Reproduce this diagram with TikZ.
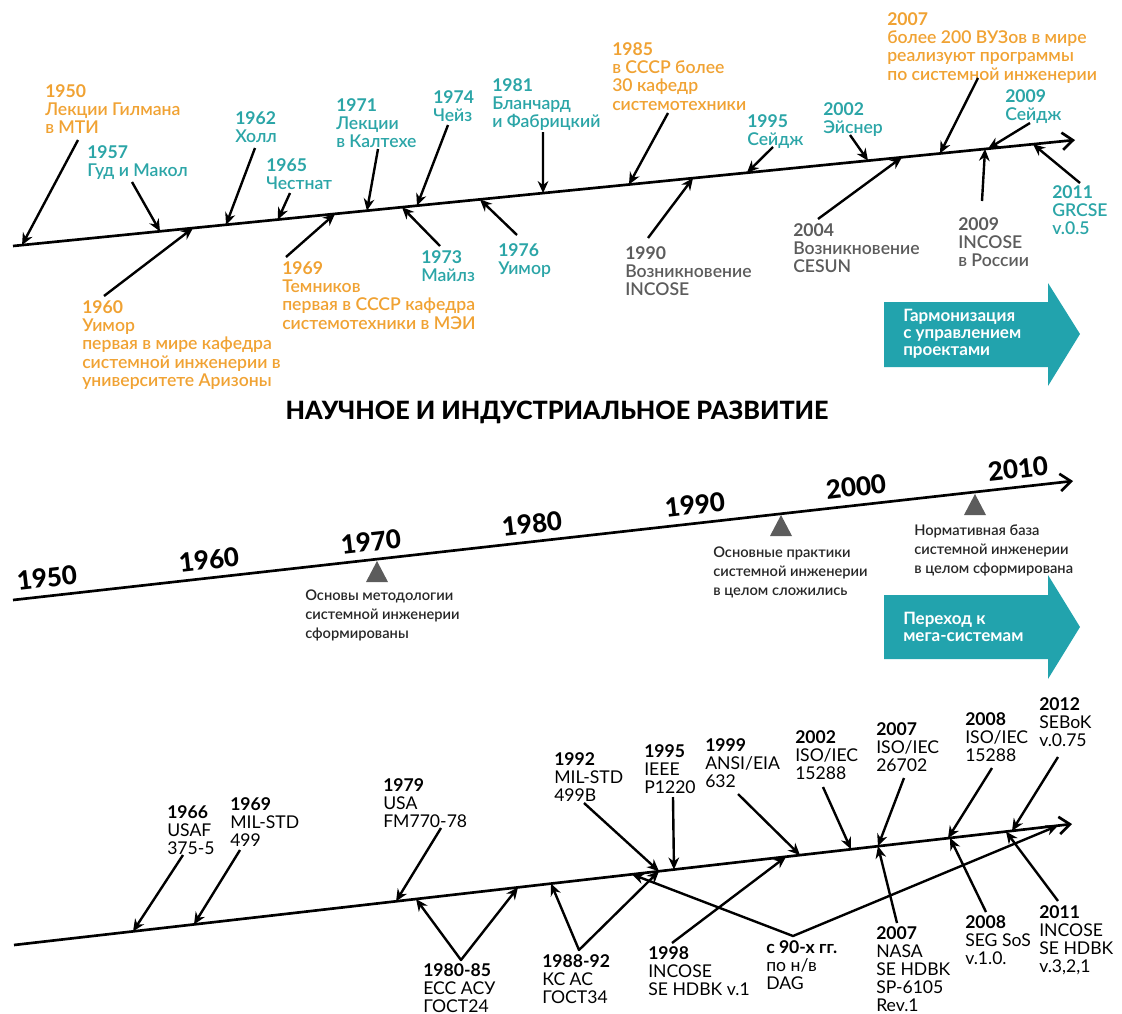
\documentclass[tikz,border=0pt]{standalone}
\usepackage{fontspec}
\setmainfont{Lato}
\newfontfamily\semi{Lato Semibold}
\newfontfamily\heavy{Lato Heavy}
\usetikzlibrary{arrows.meta,calc}
\definecolor{og}{HTML}{F0A233}
\definecolor{tq}{HTML}{2BA5A7}
\definecolor{gy}{HTML}{5C5C5C}
\definecolor{nt}{HTML}{262626}
\definecolor{bx}{HTML}{22A3AD}
\tikzstyle{lbl} = [anchor=north west, inner sep=0pt, align=left, font=\fontsize{13.2}{13.8}\selectfont\semi]
\tikzstyle{slbl} = [anchor=north west, inner sep=0pt, align=left, font=\fontsize{13.2}{13.6}\selectfont]
\tikzstyle{ptr} = [line width=1.8pt, -{Stealth[length=9pt,width=8pt]}]
\tikzstyle{pptr} = [line width=1.8pt, line join=round, {Stealth[length=9pt,width=8pt]}-{Stealth[length=9pt,width=8pt]}]
\tikzstyle{tline} = [line width=2pt, -{Straight Barb[length=8pt,width=13pt]}]
\tikzstyle{decade} = [anchor=base, inner sep=0pt, rotate=6.4, font=\fontsize{19.5}{19.5}\selectfont\heavy]
\tikzstyle{memo} = [anchor=north west, inner sep=0pt, align=left, text=nt, font=\fontsize{11}{14}\selectfont\semi]
\tikzstyle{banner} = [anchor=west, inner sep=0pt, align=left, text=white, font=\fontsize{12.75}{12.9}\selectfont\bfseries]
\tikzstyle{heading} = [anchor=base, inner sep=0pt, font=\fontsize{18.9}{18.9}\selectfont\heavy]
\newcommand{\yr}[1]{{\normalfont\bfseries #1}}

\begin{document}
\begin{tikzpicture}[x=0.75pt,y=-0.75pt]
\useasboundingbox (0,0) rectangle (1122,1014);

% top: people and events
\coordinate (ta) at (13,246);
\coordinate (tb) at (1075,140);
\draw[tline] (ta) -- (tb);

\node[lbl,og] (u1950) at (45,84) {\yr{1950}\\Лекции Гилмана\\в МТИ};
\node[lbl,tq] (u1957) at (87,145) {\yr{1957}\\Гуд и Макол};
\node[lbl,tq] (u1962) at (235,111) {\yr{1962}\\Холл};
\node[lbl,tq] (u1965) at (266,158) {\yr{1965}\\Честнат};
\node[lbl,tq] (u1971) at (336,98) {\yr{1971}\\Лекции\\в Калтехе};
\node[lbl,tq] (u1974) at (433,90) {\yr{1974}\\Чейз};
\node[lbl,tq] (u1981) at (492,78) {\yr{1981}\\Бланчард\\и Фабрицкий};
\node[lbl,og] (u1985) at (612,42) {\yr{1985}\\в СССР более\\30 кафедр\\системотехники};
\node[lbl,tq] (u1995) at (747,114) {\yr{1995}\\Сейдж};
\node[lbl,tq] (u2002) at (823,102) {\yr{2002}\\Эйснер};
\node[lbl,og] (u2007) at (887,12) {\yr{2007}\\более 200 ВУЗов в мире\\реализуют программы\\по системной инженерии};
\node[lbl,tq] (u2009) at (1005,89) {\yr{2009}\\Сейдж};

\node[lbl,og] (d1960) at (82,300) {\yr{1960}\\Уимор\\первая в мире кафедра\\системной инженерии в\\университете Аризоны};
\node[lbl,og] (d1969) at (282,261) {\yr{1969}\\Темников\\первая в СССР кафедра\\системотехники в МЭИ};
\node[lbl,tq] (d1973) at (421,250) {\yr{1973}\\Майлз};
\node[lbl,tq] (d1976) at (498,243) {\yr{1976}\\Уимор};
\node[lbl,gy] (d1990) at (625,246) {\yr{1990}\\Возникновение\\INCOSE};
\node[lbl,gy] (d2004) at (793,223) {\yr{2004}\\Возникновение\\CESUN};
\node[lbl,gy] (d2009) at (958,217) {\yr{2009}\\INCOSE\\в России};
\node[lbl,tq] (d2011) at (1052,185) {\yr{2011}\\GRCSE\\v.0.5};

\draw[ptr] ([shift={(33,56)}]u1950.north west) -- ($(ta)!.0085!(tb)$);
\draw[ptr] ([shift={(45,37)}]u1957.north west) -- ($(ta)!.1384!(tb)$);
\draw[ptr] ([shift={(20,37)}]u1962.north west) -- ($(ta)!.2006!(tb)$);
\draw[ptr] ([shift={(24,35)}]u1965.north west) -- ($(ta)!.2495!(tb)$);
\draw[ptr] ([shift={(42,51)}]u1971.north west) -- ($(ta)!.3333!(tb)$);
\draw[ptr] ([shift={(15,35)}]u1974.north west) -- ($(ta)!.3804!(tb)$);
\draw[ptr] ([shift={(51,54)}]u1981.north west) -- ($(ta)!.4991!(tb)$);
\draw[ptr] ([shift={(56,71)}]u1985.north west) -- ($(ta)!.5800!(tb)$);
\draw[ptr] ([shift={(26,33)}]u1995.north west) -- ($(ta)!.6911!(tb)$);
\draw[ptr] ([shift={(27,33)}]u2002.north west) -- ($(ta)!.8051!(tb)$);
\draw[ptr] ([shift={(91,66)}]u2007.north west) -- ($(ta)!.8729!(tb)$);
\draw[ptr] ([shift={(25,34)}]u2009.north west) -- ($(ta)!.9181!(tb)$);
\draw[ptr] ([shift={(22,-4)}]d1960.north west) -- ($(ta)!.1695!(tb)$);
\draw[ptr] ([shift={(4,-4)}]d1969.north west) -- ($(ta)!.3032!(tb)$);
\draw[ptr] ([shift={(19,-4)}]d1973.north west) -- ($(ta)!.3663!(tb)$);
\draw[ptr] ([shift={(19,-8)}]d1976.north west) -- ($(ta)!.4397!(tb)$);
\draw[ptr] ([shift={(23,-8)}]d1990.north west) -- ($(ta)!.6403!(tb)$);
\draw[ptr] ([shift={(25,-4)}]d2004.north west) -- ($(ta)!.8371!(tb)$);
\draw[ptr] ([shift={(24,-16)}]d2009.north west) -- ($(ta)!.9153!(tb)$);
\draw[ptr] ([shift={(28,-2)}]d2011.north west) -- ($(ta)!.9605!(tb)$);

\fill[bx] (884,302) -- (1048,302) -- (1048,283) -- (1080,334) -- (1048,386) -- (1048,367) -- (884,367) -- cycle;
\node[banner] (harm) at (903,334) {Гармонизация\\с управлением\\проектами};

% middle: decades
\node[heading] (ttl) at (557,419) {НАУЧНОЕ И ИНДУСТРИАЛЬНОЕ РАЗВИТИЕ};
\coordinate (ma) at (13,600);
\coordinate (mb) at (1073,481);
\draw[tline] (ma) -- (mb);

\node[decade] (m1950) at (48,587) {1950};
\node[decade] (m1960) at (210,569) {1960};
\node[decade] (m1970) at (372,551) {1970};
\node[decade] (m1980) at (533,533) {1980};
\node[decade] (m1990) at (696,514) {1990};
\node[decade] (m2000) at (857,496) {2000};
\node[decade] (m2010) at (1019,478) {2010};

\fill[gy] (377,561) -- (366,582) -- (388,582) -- cycle;
\fill[gy] (781,515) -- (770,536) -- (792,536) -- cycle;
\fill[gy] (975,494) -- (964,515) -- (986,515) -- cycle;
\node[memo] (n1970) at (305,590) {Основы методологии\\системной инженерии\\сформированы};
\node[memo] (n1990) at (713,547) {Основные практики\\системной инженерии\\в целом сложились};
\node[memo] (n2010) at (914,525) {Нормативная база\\системной инженерии\\в целом сформирована};

\fill[bx] (884,595) -- (1048,595) -- (1048,575) -- (1080,627) -- (1048,679) -- (1048,659) -- (884,659) -- cycle;
\node[banner] (mega) at (903,627) {Переход к\\мега-системам};

% bottom: standards
\coordinate (ba) at (14,945);
\coordinate (bb) at (1072,824);
\draw[tline] (ba) -- (bb);

\node[slbl] (s1966) at (167,805) {\yr{1966}\\USAF\\375-5};
\node[slbl] (s1969) at (230,797) {\yr{1969}\\MIL-STD\\499};
\node[slbl] (s1979) at (383,778) {\yr{1979}\\USA\\FM770-78};
\node[slbl] (s1992) at (554,752) {\yr{1992}\\MIL-STD\\499B};
\node[slbl] (s1995) at (644,744) {\yr{1995}\\IEEE\\P1220};
\node[slbl] (s1999) at (705,738) {\yr{1999}\\ANSI/EIA\\632};
\node[slbl] (s2002) at (795,730) {\yr{2002}\\ISO/IEC\\15288};
\node[slbl] (s2007) at (876,722) {\yr{2007}\\ISO/IEC\\26702};
\node[slbl] (s2008) at (965,712) {\yr{2008}\\ISO/IEC\\15288};
\node[slbl] (s2012) at (1039,697) {\yr{2012}\\SEBoK\\v.0.75};

\node[slbl] (g8085) at (423,963) {\yr{1980-85}\\ЕСС АСУ\\ГОСТ24};
\node[slbl] (g8892) at (542,954) {\yr{1988-92}\\КС АС\\ГОСТ34};
\node[slbl] (s1998) at (648,946) {\yr{1998}\\INCOSE\\SE HDBK v.1};
\node[slbl] (dag) at (766,940) {\yr{с 90-х гг.}\\по н/в\\DAG};
\node[slbl] (nasa) at (876,926) {\yr{2007}\\NASA\\SE HDBK\\SP-6105\\Rev.1};
\node[slbl] (segs) at (965,915) {\yr{2008}\\SEG SoS\\v.1.0.};
\node[slbl] (s2011) at (1039,905) {\yr{2011}\\INCOSE\\SE HDBK\\v.3,2,1};

\draw[ptr] ([shift={(16,50)}]s1966.north west) -- ($(ba)!.1125!(bb)$);
\draw[ptr] ([shift={(10,53)}]s1969.north west) -- ($(ba)!.1701!(bb)$);
\draw[ptr] ([shift={(58,50)}]s1979.north west) -- ($(ba)!.3611!(bb)$);
\draw[ptr] ([shift={(30,51)}]s1992.north west) -- ($(ba)!.6096!(bb)$);
\draw[ptr] ([shift={(29,53)}]s1995.north west) -- ($(ba)!.6238!(bb)$);
\draw[ptr] ([shift={(33,56)}]s1999.north west) -- ($(ba)!.7429!(bb)$);
\draw[ptr] ([shift={(28,57)}]s2002.north west) -- ($(ba)!.7911!(bb)$);
\draw[ptr] ([shift={(28,56)}]s2007.north west) -- ($(ba)!.8166!(bb)$);
\draw[ptr] ([shift={(27,56)}]s2008.north west) -- ($(ba)!.8828!(bb)$);
\draw[ptr] ([shift={(19,60)}]s2012.north west) -- ($(ba)!.9433!(bb)$);

\draw[pptr] ($(ba)!.3800!(bb)$) -- ([shift={(38,-3)}]g8085.north west) -- ($(ba)!.4764!(bb)$);
\draw[pptr] ($(ba)!.5076!(bb)$) -- ([shift={(37,-4)}]g8892.north west) -- ($(ba)!.6096!(bb)$);
\draw[ptr] ([shift={(24,-3)}]s1998.north west) -- ($(ba)!.7297!(bb)$);
\draw[pptr] ($(ba)!.5841!(bb)$) -- ([shift={(27,-4)}]dag.north west) -- ($(ba)!.9868!(bb)$);
\draw[ptr] ([shift={(21,-3)}]nasa.north west) -- ($(ba)!.8166!(bb)$);
\draw[ptr] ([shift={(21,-3)}]segs.north west) -- ($(ba)!.8847!(bb)$);
\draw[ptr] ([shift={(19,-4)}]s2011.north west) -- ($(ba)!.9376!(bb)$);
\end{tikzpicture}
\end{document}
